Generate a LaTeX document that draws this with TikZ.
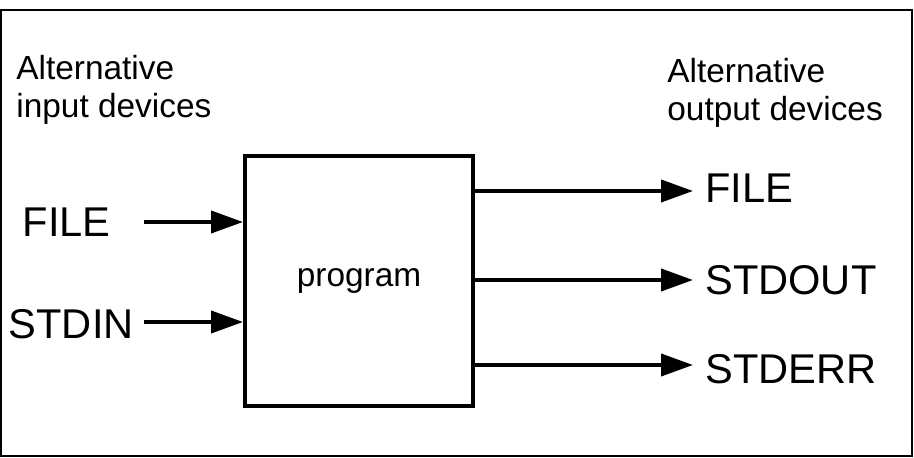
\documentclass[tikz,border=0pt]{standalone}
\usepackage{fontspec}
\setmainfont{Liberation Sans}
\usetikzlibrary{positioning,arrows.meta}

\begin{document}
\begin{tikzpicture}[x=0.5pt,y=-0.5pt,
    dev/.style={inner sep=0pt,font=\fontsize{20.8}{24}\selectfont},
    head/.style={inner sep=0pt,align=left,anchor=base west,font=\fontsize{16.7}{19}\selectfont},
    flow/.style={line width=2pt,-{Triangle[length=16pt,width=11pt]}}]
    \useasboundingbox (0,0) rectangle (914,458);
    \draw[line width=1pt] (1,10) rectangle (912,456);

    \node[draw,line width=2pt,inner sep=0pt,minimum width=114pt,minimum height=125pt,
          font=\fontsize{16.7}{19}\selectfont] (prog) at (359,281) {program};

    \node[head] (inhead) at (16,118) {Alternative\\input devices};
    \node[head] (outhead) at (667,121) {Alternative\\output devices};

    % inputs
    \coordinate (infile) at (144,222);
    \coordinate (instdin) at (144,322);
    \node[dev,anchor=east] (filein) at (111,222) {FILE};
    \node[dev,anchor=east] (stdin) at (134,324) {STDIN};

    % outputs
    \coordinate (outfile) at (693,191);
    \coordinate (outstdout) at (693,280);
    \coordinate (outstderr) at (693,365);
    \node[dev,right=6pt of outfile,yshift=1.5pt] (fileout) {FILE};
    \node[dev,right=6pt of outstdout] (stdout) {STDOUT};
    \node[dev,right=6pt of outstderr,yshift=-2pt] (stderr) {STDERR};

    \path[flow] (infile) edge (prog.west |- infile)
                (instdin) edge (prog.west |- instdin)
                (prog.east |- outfile) edge (outfile)
                (prog.east |- outstdout) edge (outstdout)
                (prog.east |- outstderr) edge (outstderr);
\end{tikzpicture}
\end{document}
